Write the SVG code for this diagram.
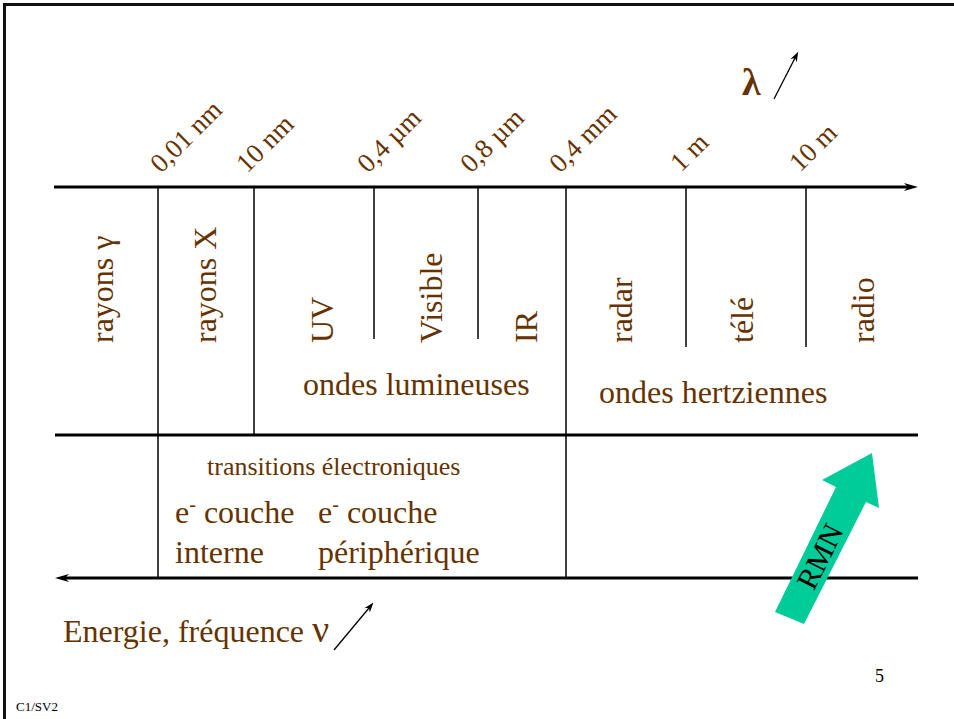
<svg xmlns="http://www.w3.org/2000/svg" width="954" height="719" viewBox="0 0 954 719">
<style>
.t{font-family:"Liberation Serif","Times New Roman",serif;fill:#663300}
.s24{font-size:27px}
.s32{font-size:32px}
.ax{stroke:#000;stroke-width:3;fill:none}
.v{stroke:#000;stroke-width:1.5;fill:none}
.thin{stroke:#000;stroke-width:1.3;fill:none}
</style>
<defs>
<marker id="big" markerUnits="userSpaceOnUse" viewBox="0 0 14 8" markerWidth="14" markerHeight="8" refX="4" refY="4" orient="auto">
<path d="M0,0 L14,4 L0,8 L4,4 z" fill="#000"/>
</marker>
<marker id="small" markerUnits="userSpaceOnUse" viewBox="0 0 10 7" markerWidth="10" markerHeight="7" refX="3" refY="3.5" orient="auto">
<path d="M0,0 L10,3.5 L0,7 L3,3.5 z" fill="#000"/>
</marker>
</defs>
<rect width="954" height="719" fill="#fff"/>
<path d="M4.5,719 V4.5 H954" stroke="#111" stroke-width="3" fill="none"/>

<g id="connectors">
<line class="ax" x1="54" y1="187" x2="908" y2="187" marker-end="url(#big)"/>
<line class="ax" x1="55" y1="435" x2="918" y2="435"/>
<line class="ax" x1="918" y1="578" x2="65" y2="578" marker-end="url(#big)"/>
<line class="v" x1="158" y1="187" x2="158" y2="578"/>
<line class="v" x1="254" y1="187" x2="254" y2="435"/>
<line class="v" x1="374" y1="187" x2="374" y2="339"/>
<line class="v" x1="478" y1="187" x2="478" y2="339"/>
<line class="v" x1="566" y1="187" x2="566" y2="578"/>
<line class="v" x1="686" y1="187" x2="686" y2="347"/>
<line class="v" x1="806" y1="187" x2="806" y2="347"/>
<line class="thin" x1="774" y1="99" x2="795" y2="58" marker-end="url(#small)"/>
<line class="thin" x1="334" y1="650" x2="369" y2="608" marker-end="url(#small)"/>
</g>

<g id="scale">
<text class="t s24" transform="translate(161,174) rotate(-45)">0,01 nm</text>
<text class="t s24" transform="translate(247,174) rotate(-45)">10 nm</text>
<text class="t s24" transform="translate(368,174) rotate(-45)">0,4 µm</text>
<text class="t s24" transform="translate(471,174) rotate(-45)">0,8 µm</text>
<text class="t s24" transform="translate(560,174) rotate(-45)">0,4 mm</text>
<text class="t s24" transform="translate(681,173) rotate(-45)">1 m</text>
<text class="t s24" transform="translate(800,173) rotate(-45)">10 m</text>
<text class="t" x="742" y="95" font-size="38" font-weight="bold">λ</text>
</g>

<g id="domains">
<text class="t s32" transform="translate(113,343) rotate(-90)">rayons γ</text>
<text class="t s32" transform="translate(216,343) rotate(-90)">rayons X</text>
<text class="t s32" transform="translate(333,343) rotate(-90)">UV</text>
<text class="t s32" transform="translate(442,343) rotate(-90)">Visible</text>
<text class="t s32" transform="translate(537,343) rotate(-90)">IR</text>
<text class="t s32" transform="translate(632,343) rotate(-90)">radar</text>
<text class="t s32" transform="translate(753,343) rotate(-90)">télé</text>
<text class="t s32" transform="translate(874,343) rotate(-90)">radio</text>
<text class="t s32" x="303" y="395">ondes lumineuses</text>
<text class="t s32" x="599" y="403">ondes hertziennes</text>
</g>

<g id="transitions">
<text class="t" x="207" y="475" font-size="26">transitions électroniques</text>
<text class="t s32" x="175" y="523">e<tspan font-size="20" dy="-12">-</tspan><tspan dy="12"> couche</tspan></text>
<text class="t s32" x="318" y="523">e<tspan font-size="20" dy="-12">-</tspan><tspan dy="12"> couche</tspan></text>
<text class="t s32" x="175" y="563">interne</text>
<text class="t s32" x="318" y="563">périphérique</text>
</g>

<g id="energie">
<text class="t s32" x="63" y="642">Energie, fréquence <tspan font-size="38">ν</tspan></text>
</g>

<g id="rmn">
<polygon points="775,612 836,487 822,480 872,453 879,508 866,502 804,624" fill="#00CC99"/>
<text transform="translate(829,561) rotate(-63.4)" text-anchor="middle" font-family="Liberation Serif, serif" font-size="30" fill="#000">RMN</text>
</g>

<text x="16" y="711" font-family="Liberation Serif, serif" font-size="13" fill="#000">C1/SV2</text>
<text x="875" y="682" font-family="Liberation Serif, serif" font-size="18" fill="#000">5</text>
</svg>
